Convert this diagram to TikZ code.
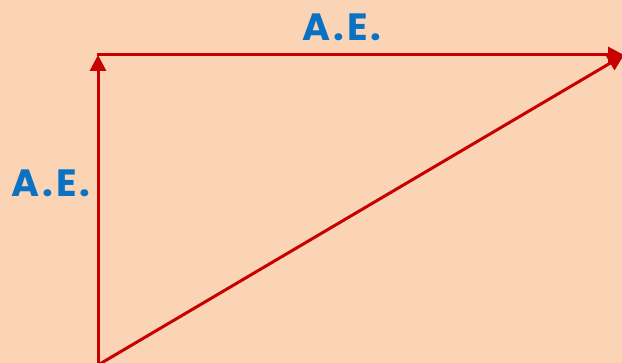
\documentclass[tikz,border=0pt]{standalone}
\usepackage{fontspec}
\setmainfont{Poppins}
\usepackage{xcolor}
\usetikzlibrary{arrows.meta}
\definecolor{peachbg}{HTML}{FAD4B5}
\definecolor{vecred}{HTML}{C80000}
\definecolor{labblue}{HTML}{0A72C2}

\tikzset{
  vec/.style={vecred, line width=3pt, -{Triangle[length=16pt, width=16pt]}},
  aelabel/.style={font=\fontsize{38}{42}\selectfont\bfseries\addfontfeature{LetterSpace=8}, text=labblue, inner sep=0pt}
}

\begin{document}
\begin{tikzpicture}[x=1pt, y=-1pt]

  %% Background
  \fill[peachbg] (0,0) rectangle (622,363);
  \clip (0,0) rectangle (622,363);

  %% Corners
  \coordinate (orig) at (98,365);
  \coordinate (top) at (98,55);
  \coordinate (right) at (624,55);

  %% Vectors
  \draw[vec] (orig) -- (top);
  \draw[vec, shorten <=-1.5pt] (top) -- (right);
  \draw[vec] (orig) -- (right);

  %% Labels
  \node[aelabel] (aetop) at (342,27) {A.E.};
  \node[aelabel] (aeleft) at (51,183) {A.E.};

\end{tikzpicture}
\end{document}
